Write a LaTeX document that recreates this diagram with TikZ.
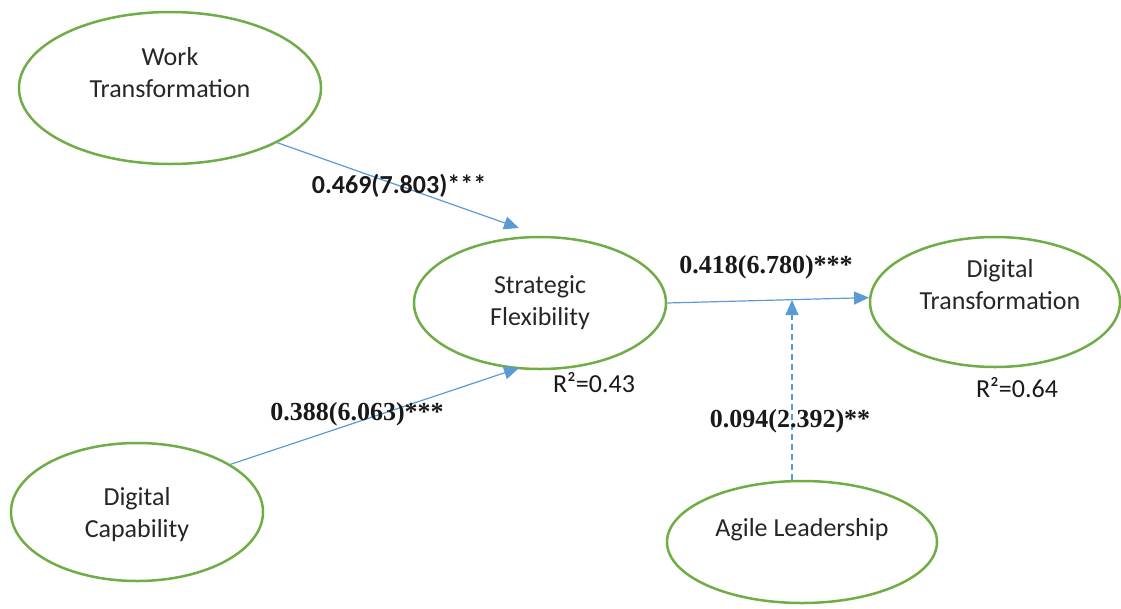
\documentclass[tikz,border=0pt]{standalone}
\usepackage{fontspec}
\setmainfont{Carlito}
\newfontfamily\coeffont{Liberation Serif}
\usetikzlibrary{arrows.meta,shapes.geometric}
\definecolor{ellgreen}{RGB}{112,173,71}
\definecolor{linkblue}{RGB}{91,155,213}

\begin{document}
\begin{tikzpicture}[->,>={Triangle[length=15pt,width=13pt]},
    x=1pt, y=-1pt,
    latent/.style={ellipse, draw=ellgreen, line width=2.5pt, inner sep=0pt},
    lbl/.style={font=\fontsize{26}{32}\selectfont, align=center, text=black!85},
    coef/.style={font=\fontsize{26}{30}\selectfont\coeffont\bfseries, text=black!90},
    coefsans/.style={font=\fontsize{26}{30}\selectfont\bfseries, text=black!90},
    rsq/.style={font=\fontsize{26}{30}\selectfont, text=black!90},
    link/.style={draw=linkblue, line width=1.2pt, color=linkblue}]

    \useasboundingbox (0,0) rectangle (1121,608);

    % constructs
    \node[latent,
          minimum width = 302pt,
          minimum height = 152pt
          ] (wt) at (170,88) {};
    \node[lbl] at ([yshift=15pt]wt.center) {Work\\Transformation};

    \node[latent,
          minimum width = 252pt,
          minimum height = 132pt
          ] (sf) at (540,303) {};
    \node[lbl] at (sf.center) {Strategic\\Flexibility};

    \node[latent,
          minimum width = 250pt,
          minimum height = 130pt
          ] (dt) at (995,302) {};
    \node[lbl] at ([xshift=5pt,yshift=17pt]dt.center) {Digital\\Transformation};

    \node[latent,
          minimum width = 252pt,
          minimum height = 138pt
          ] (dc) at (137,512) {};
    \node[lbl] at ([yshift=-3pt]dc.center) {Digital\\Capability};

    \node[latent,
          minimum width = 270pt,
          minimum height = 122pt
          ] (al) at (802,542) {};
    \node[lbl] at ([yshift=12pt]al.center) {Agile Leadership};

    % arrow ends
    \coordinate (sfwt) at (519,228);
    \coordinate (sfdc) at (519,368);
    \coordinate (mod) at (792,300);

    % paths
    \draw[link] (wt.-27) -- (sfwt);
    \draw[link] (dc.27) -- (sfdc);
    \draw[link] (sf.east) -- (dt.178);
    \draw[link, dash pattern=on 6pt off 4pt] (al.north -| mod) -- (mod);

    % coefficients
    \node[coefsans] (c1) at (399,186) {0.469(7.803)***};
    \node[coef] (c2) at (766,267) {0.418(6.780)***};
    \node[coef] (c3) at (357,414) {0.388(6.063)***};
    \node[coef] (c4) at (790,421) {0.094(2.392)**};

    \node[rsq] (r1) at (594,383) {R²=0.43};
    \node[rsq] (r2) at (1017,388) {R²=0.64};

\end{tikzpicture}
\end{document}
